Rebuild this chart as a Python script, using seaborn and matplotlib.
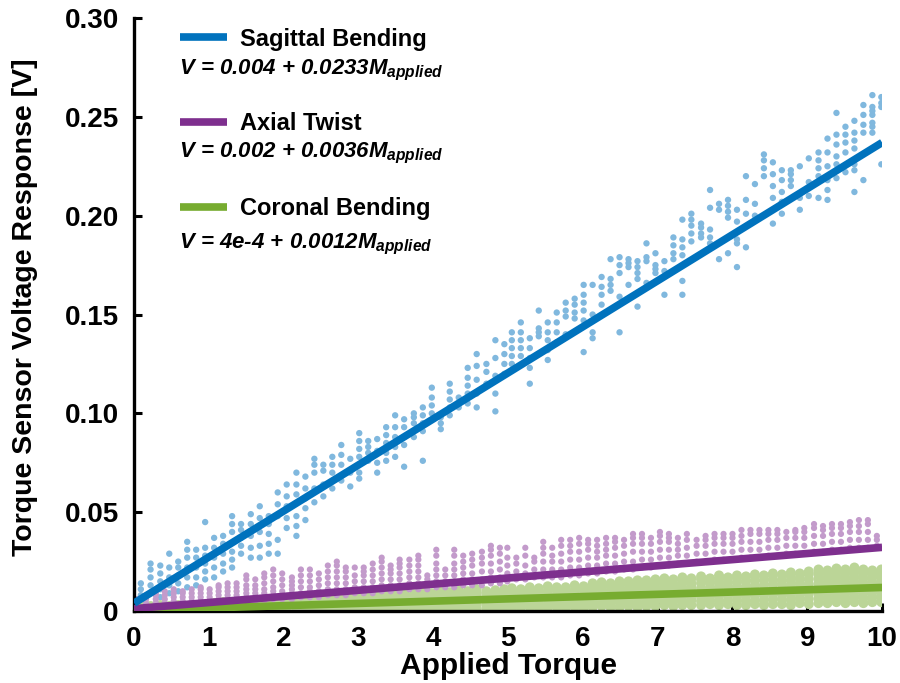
import numpy as np
import pandas as pd
import matplotlib
matplotlib.use("Agg")
import matplotlib.pyplot as plt
import seaborn as sns
from matplotlib.lines import Line2D
from matplotlib.font_manager import FontProperties

# ---------------- data ----------------
series_names = ["Sagittal Bending", "Axial Twist", "Coronal Bending"]
line_colors = ["#0072BD", "#7E2F8E", "#77AC30"]
point_colors = ["#80B8DE", "#C39BCB", "#BBD597"]
# fitted lines as drawn in the picture (V at M=0 and slope, in V per unit torque)
fit_intercept = [0.004, 0.0012, 0.0004]
fit_slope = [0.0233, 0.0031, 0.00115]
equation_main = ["V = 0.004 + 0.0233", "V = 0.002 + 0.0036", "V = 4e-4 + 0.0012"]
equation_tail = r"$M_{applied}$"

x_ticks = [0, 1, 2, 3, 4, 5, 6, 7, 8, 9, 10]
y_ticks = [0, 0.05, 0.10, 0.15, 0.20, 0.25, 0.30]
y_tick_labels = ["0", "0.05", "0.10", "0.15", "0.20", "0.25", "0.30"]

# measurement columns (applied torque)
col_x = [0.09, 0.22, 0.35, 0.47, 0.59, 0.71, 0.83, 0.95, 1.07, 1.19,
         1.31, 1.43, 1.56, 1.68, 1.80, 1.92, 2.04, 2.17, 2.29, 2.41,
         2.53, 2.65, 2.77, 2.89, 3.01, 3.13, 3.25, 3.37, 3.49, 3.61,
         3.74, 3.86, 3.98, 4.10, 4.22, 4.34, 4.46, 4.58, 4.71, 4.83,
         4.95, 5.05, 5.17, 5.29, 5.41, 5.53, 5.65, 5.77, 5.89, 6.01,
         6.13, 6.25, 6.37, 6.49, 6.61, 6.73, 6.85, 6.97, 7.09, 7.21,
         7.33, 7.45, 7.58, 7.70, 7.82, 7.94, 8.06, 8.18, 8.30, 8.42,
         8.54, 8.66, 8.78, 8.90, 9.02, 9.15, 9.27, 9.39, 9.51, 9.63,
         9.75, 9.87, 9.99]

axial_x = [0.03, 0.16, 0.29, 0.41, 0.53, 0.65, 0.77, 0.89, 1.01, 1.13,
           1.25, 1.37, 1.50, 1.62, 1.74, 1.86, 1.98, 2.11, 2.23, 2.35,
           2.47, 2.59, 2.71, 2.83, 2.95, 3.07, 3.19, 3.31, 3.43, 3.55,
           3.68, 3.80, 3.92, 4.04, 4.16, 4.28, 4.40, 4.52, 4.65, 4.77,
           4.89, 4.99, 5.11, 5.23, 5.35, 5.47, 5.59, 5.71, 5.83, 5.95,
           6.07, 6.19, 6.31, 6.43, 6.55, 6.67, 6.79, 6.91, 7.03, 7.15,
           7.27, 7.39, 7.52, 7.64, 7.76, 7.88, 8.00, 8.12, 8.24, 8.36,
           8.48, 8.60, 8.72, 8.84, 8.96, 9.09, 9.21, 9.33, 9.45, 9.57,
           9.69, 9.81, 9.93]

# sensor voltage readings per column, in mV
sagittal_mv = [
    [5, 8, 11, 14], [9, 13, 17, 21, 24], [7, 11, 15, 19, 23], [9, 13, 17, 22, 29],
    [10, 14, 18, 22, 25], [12, 17, 22, 27, 31, 35], [13, 17, 22, 27, 31],
    [16, 20, 24, 28, 32, 45], [17, 22, 27, 32, 37], [20, 24, 29, 34, 38],
    [22, 26, 30, 40, 44, 48], [29, 33, 37, 41, 44], [27, 32, 38, 44, 49],
    [27, 33, 40, 47, 53], [29, 34, 39, 44, 48], [29, 36, 48, 54, 60],
    [42, 47, 53, 58, 64], [38, 43, 48, 59, 64, 70], [46, 52, 57, 62, 68],
    [55, 62, 70, 74, 77],
    [58, 64, 71, 74], [62, 70, 74, 78], [66, 74, 79, 84], [63, 70, 77],
    [67, 70, 78, 82, 86, 90], [76, 80, 83, 86], [70, 75, 81, 87],
    [76, 80, 85, 89, 93], [78, 83, 88, 93, 99], [73, 84, 88, 93, 97],
    [88, 95, 98, 100], [76, 91, 95, 99, 103], [100, 104, 108, 113], [92, 95, 98],
    [99, 103, 107, 111, 115], [103, 108], [105, 110, 114, 118, 123],
    [103, 110, 117, 124, 130], [115, 121, 125], [101, 110, 119, 128, 137],
    [120, 125, 130, 135],
    [125, 129, 133, 137, 141], [129, 133, 137, 141, 146], [115, 123, 128, 133, 138],
    [130, 139, 141, 143, 152], [127, 132, 137, 141, 146], [136, 141, 146, 151],
    [140, 149, 152, 156], [148, 151, 155, 158], [131, 147, 152, 156, 160, 165],
    [138, 141, 150, 165], [155, 160, 164, 169], [162, 165, 168, 178],
    [141, 159, 171, 175, 179], [165, 174, 176, 178], [154, 168, 171, 174, 177],
    [166, 177, 179, 186], [171, 173, 175, 181], [160, 172, 177],
    [178, 181, 185, 189], [160, 167, 180, 184, 188, 198], [187, 191, 195, 198, 201],
    [189, 191, 194, 196], [186, 189, 193, 204, 213], [178, 203, 206],
    [181, 199, 202, 205, 208], [174, 186, 188, 197, 203], [184, 201, 208, 220],
    [200, 206, 216], [220, 224, 228, 231], [196, 209, 215, 221, 227],
    [201, 207, 212, 218, 223], [215, 218, 221, 223], [203, 209, 225],
    [210, 214, 217, 229], [209, 220, 224, 228, 232], [208, 213, 218, 225, 232, 239],
    [219, 223, 226, 230, 236, 241, 252], [222, 232, 237, 241, 245],
    [212, 223, 226, 234, 238, 242, 248], [218, 242, 246, 251, 256],
    [242, 245, 247, 251, 253, 255, 261], [226, 255, 257, 260],
]

axial_mv = [
    [2, 4, 6], [2, 4, 6, 8], [2, 4, 6, 8, 9], [2, 4, 6, 8, 10], [3, 5, 7, 9, 11],
    [3, 5, 7, 9, 10], [3, 5, 7, 9, 11], [3, 5, 7, 9, 11, 12], [3, 5, 7, 9, 11],
    [4, 6, 8, 10, 12, 13], [4, 6, 8, 10, 12, 14], [4, 6, 8, 10, 12, 14],
    [5, 7, 9, 11, 13, 16, 18], [5, 7, 9, 11, 13, 16], [5, 7, 9, 11, 14, 17, 19],
    [6, 8, 10, 12, 15, 18, 21], [6, 8, 10, 13, 16, 19], [6, 9, 11, 13, 15, 17],
    [7, 9, 12, 15, 18, 21], [7, 10, 12, 15, 18, 21],
    [7, 10, 13, 16, 19], [8, 11, 14, 17, 20, 23], [8, 11, 14, 17, 20, 23, 25],
    [8, 11, 14, 17, 20, 22], [9, 12, 15, 18, 22], [9, 12, 15, 18, 20, 22],
    [9, 12, 15, 18, 21, 24], [10, 13, 16, 19, 22, 25, 27], [10, 13, 16, 19, 21, 23],
    [10, 13, 16, 19, 22, 24, 26], [11, 14, 17, 20, 23, 26],
    [11, 14, 17, 20, 23, 26, 28], [11, 14, 16, 18], [12, 15, 18, 21, 24, 28, 31],
    [12, 15, 18, 21], [12, 15, 18, 21, 24, 28, 31], [13, 16, 19, 22, 25, 28],
    [13, 16, 19, 23, 26, 29], [13, 16, 20, 24, 27, 30], [14, 17, 20, 24, 28, 31, 33],
    [14, 17, 21, 25, 29, 32],
    [15, 19, 23, 27, 32], [16, 20, 24, 27], [16, 19, 23, 28, 32], [17, 21, 25, 27],
    [17, 21, 25, 29, 32, 35], [17, 21, 25, 28, 32], [17, 21, 25, 29, 33, 36],
    [18, 22, 26, 30, 33, 36], [18, 22, 26, 30, 34, 37], [19, 23, 27, 31, 34, 36],
    [19, 23, 27, 30, 33, 36], [20, 24, 28, 31, 34, 37], [20, 24, 28, 32, 35, 37],
    [21, 25, 29, 33, 36], [21, 25, 30, 34, 37, 39], [22, 26, 30, 34, 37, 39],
    [22, 26, 30, 34, 37], [23, 27, 31, 35, 38, 40], [23, 27, 31, 35, 37, 39],
    [24, 28, 31, 34, 37], [24, 28, 32, 36, 39], [25, 29, 33, 36],
    [25, 29, 33, 36, 38], [26, 30, 34, 37, 39], [26, 30, 34, 37, 39],
    [26, 30, 34, 37, 39], [27, 31, 35, 38, 41], [27, 31, 35, 39, 41],
    [27, 31, 35, 39, 41], [28, 32, 36, 39, 41], [28, 32, 36, 39, 41],
    [29, 33, 37, 40], [29, 33, 37, 40, 41], [29, 33, 37, 40, 42],
    [30, 34, 38, 42, 44], [30, 34, 38, 41, 43], [31, 35, 39, 42, 44],
    [31, 35, 39, 42, 44], [32, 36, 40, 43, 45], [32, 36, 40, 43, 46],
    [32, 36, 40, 44, 46], [33, 36, 38], [],
]

coronal_mv = [
    [0.5, 1.5, 2.5], [0.5, 1.5, 2.5], [0.5, 2.0, 3.0], [0.5, 1.5, 2.5],
    [0.5, 2.0, 3.0], [0.5, 1.5, 2.5], [0.5, 2.0, 3.0], [0.5, 1.5, 3.0],
    [0.5, 1.5, 3.0, 4.0], [0.5, 2.0, 3.0, 4.5], [0.5, 1.5, 3.0, 4.0],
    [0.5, 2.0, 3.5, 4.5], [0.5, 1.5, 3.0, 4.5], [0.5, 2.0, 3.5, 5.0],
    [0.5, 1.5, 3.0, 4.5], [0.5, 2.0, 3.5, 5.0],
    [0.5, 2.0, 3.5, 5.0, 6.0], [0.5, 2.0, 3.5, 5.0, 6.5], [0.5, 2.0, 3.5, 5.0, 6.0],
    [1.0, 2.5, 4.0, 5.5, 6.5], [0.5, 2.0, 3.5, 5.0, 7.0], [1.0, 2.5, 4.0, 5.5, 6.5],
    [0.5, 2.0, 3.5, 5.0, 7.0], [1.0, 2.5, 4.0, 5.5, 7.0], [0.5, 2.0, 3.5, 5.5, 7.5],
    [1.0, 2.5, 4.0, 5.5, 7.0, 8.0], [1.0, 2.5, 4.0, 6.0, 7.5, 8.5],
    [1.0, 3.0, 4.5, 6.0, 7.5, 8.0], [1.0, 2.5, 4.0, 5.5, 7.0, 8.5],
    [1.5, 3.0, 4.5, 6.0, 7.5, 9.0], [1.0, 2.5, 4.0, 5.5, 7.5, 8.5],
    [1.0, 3.0, 4.5, 6.5, 8.0, 9.5], [1.5, 3.0, 4.5, 6.0, 7.5, 9.0],
    [1.0, 3.0, 5.0, 7.0, 9.0, 10.0], [1.5, 3.0, 5.0, 7.0, 8.5, 9.5],
    [1.0, 3.0, 5.0, 7.0, 9.0, 10.5], [1.5, 3.5, 5.5, 7.0, 8.5, 10.0],
    [1.0, 3.0, 5.0, 7.0, 9.0, 11.0], [1.5, 3.5, 5.5, 7.5, 9.0, 10.0],
    [1.0, 3.0, 5.0, 7.0, 9.0, 10.5], [1.5, 3.5, 5.5, 7.5, 9.5, 11.0],
    [1.5, 3.5, 5.5, 7.5, 9.5, 11.5],
    [1.5, 3.5, 5.5, 7.5, 9.5, 11.0], [2.0, 4.0, 6.0, 8.0, 10.0, 12.0],
    [1.5, 3.5, 5.5, 7.5, 9.5, 11.5], [1.5, 3.5, 6.0, 8.0, 10.0, 12.5],
    [2.0, 4.0, 6.0, 8.0, 10.5, 12.0], [1.5, 3.5, 5.5, 8.0, 10.0, 12.0],
    [2.0, 4.0, 6.5, 8.5, 10.5, 13.0], [1.5, 3.5, 5.5, 8.0, 10.5, 12.5],
    [2.0, 4.0, 6.0, 8.0, 10.0, 12.0, 14.0], [2.5, 4.5, 6.5, 8.5, 11.0, 13.0, 14.5],
    [2.0, 4.0, 6.0, 8.0, 10.0, 12.5, 14.0], [2.0, 4.5, 6.5, 8.5, 11.0, 13.0, 15.0],
    [2.5, 4.5, 6.5, 9.0, 11.0, 13.5, 15.0], [2.0, 4.0, 6.5, 8.5, 11.0, 13.0, 15.5],
    [2.5, 4.5, 7.0, 9.0, 11.5, 13.5, 15.5], [2.5, 5.0, 7.0, 9.5, 11.5, 14.0, 16.0],
    [3.0, 5.0, 7.0, 9.0, 11.0, 13.0, 15.0, 16.5], [2.5, 5.0, 7.0, 9.5, 11.5, 13.5, 16.0],
    [3.0, 5.0, 7.5, 9.5, 11.5, 14.0, 16.0, 17.0], [3.0, 5.5, 7.5, 9.5, 12.0, 14.0, 16.5],
    [3.0, 5.0, 7.0, 9.5, 11.5, 14.0, 16.0, 17.5], [3.5, 5.5, 7.5, 10.0, 12.0, 14.5, 16.5],
    [3.0, 5.0, 7.5, 9.5, 12.0, 14.0, 16.0, 18.0], [3.5, 5.5, 8.0, 10.0, 12.5, 14.5, 17.0],
    [3.0, 5.5, 7.5, 10.0, 12.0, 14.5, 16.5, 18.0], [3.0, 5.0, 7.5, 10.0, 12.5, 15.0, 17.5],
    [3.5, 5.5, 8.0, 10.5, 13.0, 15.5, 17.5, 18.5], [3.0, 5.5, 8.0, 10.5, 13.0, 15.5, 18.0],
    [3.5, 6.0, 8.5, 11.0, 13.5, 16.0, 18.0, 19.0], [3.5, 6.0, 8.5, 11.0, 13.5, 15.5, 18.5],
    [3.0, 5.5, 8.0, 10.5, 13.0, 15.5, 17.5, 19.5], [4.0, 6.5, 9.0, 11.5, 14.0, 16.5, 19.0],
    [3.5, 6.0, 8.5, 11.0, 13.5, 16.0, 18.5, 20.0], [4.0, 6.5, 9.0, 11.5, 14.0, 16.5, 19.0, 21.0],
    [4.0, 6.5, 9.0, 11.5, 14.0, 16.5, 19.0, 20.5], [4.5, 7.0, 9.5, 12.0, 14.5, 17.0, 19.5, 21.5],
    [4.0, 6.5, 9.0, 11.5, 14.0, 16.5, 19.0, 21.0], [4.5, 7.0, 9.5, 12.0, 14.5, 17.0, 19.5, 22.0],
    [4.0, 6.5, 9.0, 11.5, 14.0, 16.5, 19.0, 21.0], [4.5, 7.0, 9.5, 12.0, 14.5, 17.0, 19.0, 20.5],
    [4.5, 7.0, 9.5, 12.0, 14.5, 17.0, 19.5, 21.0],
]


def to_frame(name, xs, cols):
    rows = [(name, x, v / 1000.0) for x, vals in zip(xs, cols) for v in vals]
    return pd.DataFrame(rows, columns=["series", "torque", "voltage"])


points = pd.concat([
    to_frame(series_names[0], col_x, sagittal_mv),
    to_frame(series_names[2], col_x, coronal_mv),
    to_frame(series_names[1], axial_x, axial_mv),
], ignore_index=True)

fit_rows = []
for name, a, b in zip(series_names, fit_intercept, fit_slope):
    for x in (x_ticks[0], x_ticks[-1]):
        fit_rows.append((name, x, a + b * x))
fits = pd.DataFrame(fit_rows, columns=["series", "torque", "voltage"])

# ---------------- style ----------------
sns.set_theme(style="ticks")
plt.rcParams["font.family"] = ["Liberation Sans", "DejaVu Sans"]
plt.rcParams["font.weight"] = "bold"
for key in ["text.color", "axes.labelcolor", "xtick.color", "ytick.color",
            "axes.edgecolor"]:
    plt.rcParams[key] = "black"
plt.rcParams["mathtext.fontset"] = "custom"
plt.rcParams["mathtext.rm"] = "Liberation Sans:italic:bold"
plt.rcParams["mathtext.it"] = "Liberation Sans:italic:bold"
plt.rcParams["mathtext.bf"] = "Liberation Sans:italic:bold"

fig = plt.figure(figsize=(9, 6.83), dpi=100)
ax = fig.add_axes([0.149, 0.1054, 0.8311, 0.8682])

pal_pts = dict(zip(series_names, point_colors))
pal_line = dict(zip(series_names, line_colors))
sizes = {series_names[0]: 21, series_names[1]: 20, series_names[2]: 52}

for name in [series_names[0], series_names[2], series_names[1]]:
    sub = points[points["series"] == name]
    sns.scatterplot(data=sub, x="torque", y="voltage", color=pal_pts[name],
                    s=sizes[name], edgecolor="none", linewidth=0, ax=ax,
                    legend=False, zorder=2)

for name in [series_names[2], series_names[1], series_names[0]]:
    sub = fits[fits["series"] == name]
    sns.lineplot(data=sub, x="torque", y="voltage", color=pal_line[name],
                 lw=5.5, ax=ax, legend=False, zorder=3,
                 solid_capstyle="butt")

ax.set_xlim(0, 10)
ax.set_ylim(0, 0.30)
ax.set_xticks(x_ticks)
ax.set_xticklabels([str(t) for t in x_ticks])
ax.set_yticks(y_ticks)
ax.set_yticklabels(y_tick_labels)
ax.tick_params(direction="in", length=6, width=2.2, labelsize=20, pad=11,
               color="black", labelcolor="black")
for lab in ax.get_xticklabels() + ax.get_yticklabels():
    lab.set_fontweight("bold")
sns.despine(ax=ax)
for sp in ["left", "bottom"]:
    ax.spines[sp].set_linewidth(2.4)
    ax.spines[sp].set_color("black")

ax.set_xlabel("Applied Torque", fontsize=21.5, fontweight="bold", labelpad=0)
ax.set_ylabel("Torque Sensor Voltage Response [V]", fontsize=20.5,
              fontweight="bold")
ax.yaxis.set_label_coords(-0.129, 0.512)

handles = [Line2D([], [], color=c, lw=5.5, solid_capstyle="butt") for c in line_colors]
leg = ax.legend(handles, series_names, loc="upper left",
                bbox_to_anchor=(0.0615, 0.984), frameon=False,
                handlelength=2.0, handletextpad=0.55, labelspacing=2.61,
                borderpad=0, borderaxespad=0,
                prop=FontProperties(family="Liberation Sans", weight="bold", size=17))
for t in leg.get_texts():
    t.set_color("black")

eq_y = [0.9056, 0.7656, 0.612]
for txt, yy in zip(equation_main, eq_y):
    ax.text(0.060, yy, txt + equation_tail, transform=ax.transAxes,
            ha="left", va="baseline", fontsize=16, fontstyle="italic",
            fontweight="bold", color="black")

fig.savefig("out.png", dpi=100)
